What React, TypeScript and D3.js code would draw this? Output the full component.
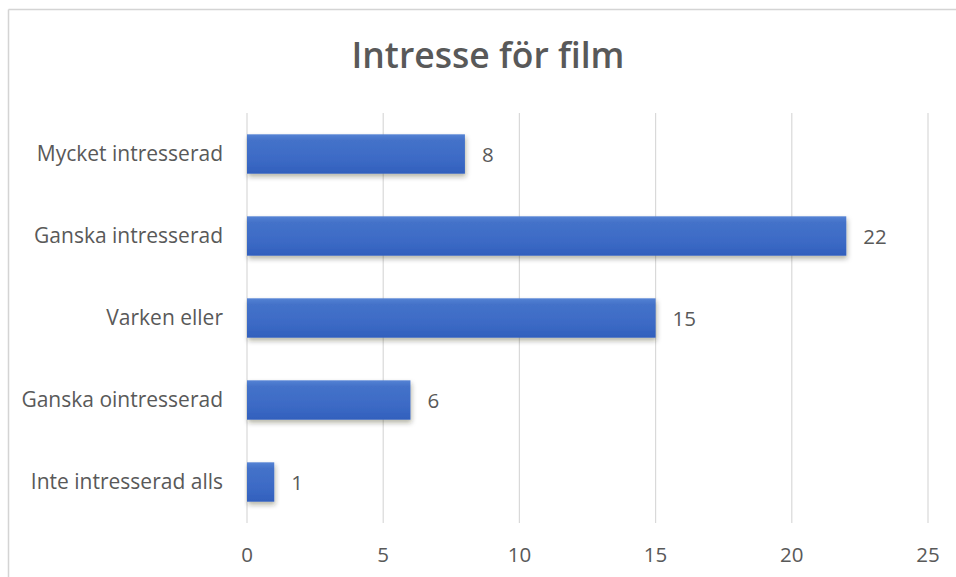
import React from "react";
import * as d3 from "d3";

const categories = [
  "Mycket intresserad",
  "Ganska intresserad",
  "Varken eller",
  "Ganska ointresserad",
  "Inte intresserad alls",
];
const values = [8, 22, 15, 6, 1];
const xTicks = [0, 5, 10, 15, 20, 25];
const title = "Intresse för film";

const W = 956;
const H = 577;
const FONT = "'Open Sans', 'DejaVu Sans', sans-serif";
const TEXT = "#595959";

export default function App() {
  const x = d3.scaleLinear().domain([0, 25]).range([247, 928]);
  const y = d3
    .scaleBand<string>()
    .domain(categories)
    .range([113, 523])
    .paddingInner(0.52)
    .paddingOuter(0.26);

  return (
    <svg
      width={W}
      height={H}
      style={{ position: "absolute", left: 0, top: 0, background: "#fff" }}
    >
      <defs>
        <linearGradient id="barGrad" x1="0" y1="0" x2="0" y2="1">
          <stop offset="0%" stopColor="#5583d4" />
          <stop offset="15%" stopColor="#4472c9" />
          <stop offset="60%" stopColor="#3d6bc6" />
          <stop offset="100%" stopColor="#3260bd" />
        </linearGradient>
        <filter id="shadow" x="-10%" y="-30%" width="130%" height="180%">
          <feDropShadow dx="1" dy="3" stdDeviation="2.5" floodColor="#2a2a10" floodOpacity="0.35" />
        </filter>
      </defs>
      <rect x={0} y={0} width={W} height={H} fill="#fff" />
      {/* frame */}
      <line x1={8.5} y1={9.5} x2={W} y2={9.5} stroke="#d4d4d4" strokeWidth={1.5} />
      <line x1={8.5} y1={9.5} x2={8.5} y2={H} stroke="#d4d4d4" strokeWidth={1.5} />

      <text
        x={488}
        y={68}
        textAnchor="middle"
        fontFamily={FONT}
        fontWeight={600}
        fontSize={35.5}
        fill={TEXT}
      >
        {title}
      </text>

      {/* gridlines */}
      {xTicks.map((t) => (
        <line
          key={t}
          x1={x(t)}
          x2={x(t)}
          y1={113}
          y2={523}
          stroke="#d9d9d9"
          strokeWidth={1.2}
        />
      ))}
      {xTicks.map((t) => (
        <text
          key={"l" + t}
          x={x(t)}
          y={562}
          textAnchor="middle"
          fontFamily={FONT}
          fontSize={20.5}
          fill={TEXT}
        >
          {t}
        </text>
      ))}

      {/* bars */}
      {categories.map((c, i) => {
        const y0 = y(c) as number;
        const bw = y.bandwidth();
        const cy = y0 + bw / 2;
        return (
          <g key={c}>
            <rect
              x={x(0)}
              y={y0}
              width={x(values[i]) - x(0)}
              height={bw}
              fill="url(#barGrad)"
              filter="url(#shadow)"
            />
            <text
              x={223}
              y={cy + 7}
              textAnchor="end"
              fontFamily={FONT}
              fontSize={21}
              fill={TEXT}
            >
              {c}
            </text>
            <text
              x={x(values[i]) + 17}
              y={cy + 7.5}
              fontFamily={FONT}
              fontSize={20.5}
              fill={TEXT}
            >
              {values[i]}
            </text>
          </g>
        );
      })}
    </svg>
  );
}
